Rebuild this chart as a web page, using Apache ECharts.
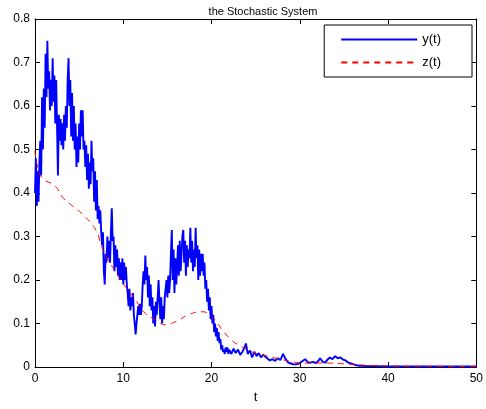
<!DOCTYPE html>
<html>
<head>
<meta charset="utf-8">
<script src="https://cdn.jsdelivr.net/npm/echarts@6/dist/echarts.min.js"></script>
<style>
  html, body { margin: 0; padding: 0; background: #fff; }
  #chart { width: 486px; height: 409px; }
</style>
</head>
<body>
<div id="chart"></div>
<script>
// axis ticks
const xTicks = [0, 10, 20, 30, 40, 50];
const yTicks = [0, 0.1, 0.2, 0.3, 0.4, 0.5, 0.6, 0.7, 0.8];

// y(t): noisy path as [t, value]
const yPoints = [
  [0.0,0.40],[0.1,0.48],[0.2,0.37],[0.3,0.45],[0.4,0.38],[0.5,0.47],[0.6,0.52],[0.7,0.44],[0.8,0.62],[0.9,0.50],
  [1.0,0.64],[1.1,0.55],[1.2,0.72],[1.3,0.62],[1.4,0.75],[1.5,0.64],[1.6,0.68],[1.7,0.59],[1.8,0.66],[1.9,0.60],
  [2.0,0.71],[2.1,0.61],[2.2,0.67],[2.3,0.56],[2.4,0.66],[2.5,0.55],[2.6,0.44],[2.7,0.58],[2.8,0.52],[2.9,0.57],
  [3.0,0.51],[3.1,0.56],[3.2,0.50],[3.3,0.58],[3.4,0.52],[3.5,0.60],[3.6,0.55],[3.7,0.66],[3.8,0.71],[3.9,0.60],
  [4.0,0.66],[4.1,0.53],[4.2,0.63],[4.3,0.52],[4.4,0.60],[4.5,0.50],[4.6,0.56],[4.7,0.46],[4.8,0.53],[4.9,0.47],
  [5.0,0.56],[5.1,0.50],[5.2,0.59],[5.3,0.53],[5.4,0.59],[5.5,0.50],[5.6,0.52],[5.7,0.46],[5.8,0.51],[5.9,0.43],
  [6.0,0.49],[6.1,0.41],[6.2,0.47],[6.3,0.42],[6.4,0.52],[6.5,0.45],[6.6,0.48],[6.7,0.38],[6.8,0.45],[6.9,0.36],
  [7.0,0.43],[7.1,0.34],[7.2,0.37],[7.3,0.33],[7.4,0.36],[7.5,0.31],[7.6,0.28],[7.7,0.31],[7.8,0.22],[7.9,0.19],
  [8.0,0.26],[8.1,0.24],[8.2,0.30],[8.3,0.25],[8.4,0.29],[8.5,0.24],[8.6,0.31],[8.7,0.365],[8.8,0.29],[8.9,0.30],
  [9.0,0.22],[9.1,0.28],[9.2,0.23],[9.3,0.27],[9.4,0.21],[9.5,0.25],[9.6,0.20],[9.7,0.24],[9.8,0.20],[9.9,0.25],
  [10.0,0.19],[10.1,0.24],[10.2,0.20],[10.3,0.23],[10.4,0.19],[10.5,0.17],[10.6,0.14],[10.7,0.18],[10.8,0.13],[10.9,0.16],
  [11.0,0.14],[11.1,0.17],[11.2,0.12],[11.3,0.10],[11.4,0.075],[11.5,0.10],[11.6,0.12],[11.7,0.14],[11.8,0.12],[11.9,0.145],
  [12.0,0.12],[12.1,0.14],[12.2,0.19],[12.3,0.22],[12.4,0.19],[12.5,0.256],[12.6,0.20],[12.7,0.23],[12.8,0.16],[12.9,0.21],
  [13.0,0.14],[13.1,0.19],[13.2,0.13],[13.3,0.16],[13.4,0.10],[13.5,0.14],[13.6,0.093],[13.7,0.15],[13.8,0.12],[13.9,0.16],
  [14.0,0.20],[14.1,0.15],[14.2,0.11],[14.3,0.16],[14.4,0.10],[14.5,0.14],[14.6,0.11],[14.7,0.16],[14.8,0.16],[14.9,0.20],
  [15.0,0.16],[15.1,0.21],[15.2,0.17],[15.3,0.20],[15.4,0.26],[15.5,0.315],[15.6,0.20],[15.7,0.27],[15.8,0.17],[15.9,0.25],
  [16.0,0.19],[16.1,0.23],[16.2,0.28],[16.3,0.21],[16.4,0.29],[16.5,0.22],[16.6,0.26],[16.7,0.30],[16.8,0.315],[16.9,0.24],
  [17.0,0.29],[17.1,0.21],[17.2,0.28],[17.3,0.23],[17.4,0.27],[17.5,0.25],[17.6,0.32],[17.7,0.24],[17.8,0.29],[17.9,0.22],
  [18.0,0.27],[18.1,0.23],[18.2,0.32],[18.3,0.25],[18.4,0.28],[18.5,0.20],[18.6,0.27],[18.7,0.21],[18.8,0.26],[18.9,0.22],
  [19.0,0.26],[19.1,0.21],[19.2,0.24],[19.3,0.18],[19.4,0.20],[19.5,0.15],[19.6,0.18],[19.7,0.13],[19.8,0.16],[19.9,0.11],
  [20.0,0.14],[20.1,0.10],[20.2,0.12],[20.3,0.08],[20.4,0.10],[20.5,0.07],[20.6,0.09],[20.7,0.06],[20.8,0.08],[20.9,0.055],
  [21.0,0.065],[21.1,0.04],[21.2,0.05],[21.3,0.035],[21.4,0.04],[21.5,0.03],[21.6,0.045],[21.7,0.035],[21.8,0.045],[21.9,0.03],
  [22.0,0.04],[22.25,0.03],[22.5,0.042],[22.75,0.032],[23.0,0.04],[23.25,0.028],[23.5,0.035],[23.75,0.045],[23.9,0.054],[24.1,0.03],
  [24.35,0.038],[24.6,0.022],[24.85,0.035],[25.1,0.025],[25.35,0.032],[25.6,0.022],[25.85,0.028],[26.0,0.032],[26.3,0.02],[26.6,0.015],
  [26.9,0.018],[27.2,0.014],[27.5,0.02],[27.8,0.016],[28.1,0.03],[28.4,0.018],[28.7,0.01],[29.0,0.008],[29.3,0.006],[29.6,0.006],
  [29.9,0.008],[30.2,0.012],[30.6,0.018],[30.9,0.011],[31.2,0.01],[31.5,0.012],[31.8,0.009],[32.1,0.014],[32.3,0.02],[32.6,0.012],
  [32.9,0.01],[33.1,0.016],[33.4,0.022],[33.7,0.018],[34.0,0.025],[34.3,0.02],[34.6,0.022],[34.9,0.017],[35.2,0.015],[35.5,0.01],
  [35.8,0.008],[36.1,0.006],[36.4,0.004],[36.8,0.003],[37.5,0.002],[38.5,0.002],[40,0.001],[42,0.001],[45,0.001],[48,0.001],[50,0.001]
];

// z(t): smooth path as [t, value]
const zPoints = [
  [0,0.497],[0.3,0.46],[0.9,0.433],[2.24,0.417],[3.14,0.39],[4.26,0.37],[5.6,0.347],[6.95,0.313],[7.5,0.28],[8.2,0.25],
  [9.3,0.213],[10.3,0.183],[11.4,0.154],[12.3,0.127],[13.7,0.108],[14.8,0.097],[15.9,0.104],[17.4,0.12],[18.8,0.127],[19.8,0.12],
  [21.1,0.089],[22.2,0.063],[23.3,0.048],[24.9,0.032],[26.3,0.025],[27.8,0.018],[29.4,0.011],[30.8,0.009],[33.1,0.009],[35.3,0.007],
  [37.6,0.004],[40.9,0.002],[45,0.0015],[50,0.001]
];

const chart = echarts.init(document.getElementById('chart'));
const font = 'Liberation Sans, Arial, sans-serif';

function boxAxis(ticks, pos, showLabel) {
  return {
    type: 'value',
    position: pos,
    min: ticks[0],
    max: ticks[ticks.length - 1],
    interval: ticks[1] - ticks[0],
    axisLine: { show: true, onZero: false, lineStyle: { color: '#000', width: 1 } },
    axisTick: { show: true, inside: true, length: 5, lineStyle: { color: '#000' } },
    axisLabel: { show: showLabel, color: '#000', fontSize: 12, fontFamily: font, margin: 6 },
    splitLine: { show: false }
  };
}

const xBottom = boxAxis(xTicks, 'bottom', true);
xBottom.name = 't';
xBottom.nameLocation = 'middle';
xBottom.nameGap = 24;
xBottom.nameTextStyle = { color: '#000', fontSize: 13, fontFamily: font };
const xTop = boxAxis(xTicks, 'top', false);
const yLeft = boxAxis(yTicks, 'left', true);
yLeft.axisLabel.margin = 5;
const yRight = boxAxis(yTicks, 'right', false);

chart.setOption({
  animation: false,
  backgroundColor: '#fff',
  title: {
    text: 'the Stochastic System',
    left: 258,
    textAlign: 'center',
    top: 1,
    textStyle: { color: '#000', fontSize: 11, fontWeight: 'normal', fontFamily: font }
  },
  grid: { left: 35, right: 5, top: 19, bottom: 38 },
  legend: {
    orient: 'vertical',
    right: 14,
    top: 25,
    padding: [8, 31, 8, 16],
    itemGap: 10,
    itemWidth: 76,
    itemHeight: 14,
    backgroundColor: '#fff',
    borderColor: '#000',
    borderWidth: 1,
    borderRadius: 0,
    itemStyle: { opacity: 0 },
    textStyle: { color: '#000', fontSize: 13, fontFamily: font },
    data: ['y(t)', 'z(t)']
  },
  xAxis: [xBottom, xTop],
  yAxis: [yLeft, yRight],
  series: [
    {
      name: 'y(t)',
      type: 'line',
      data: yPoints,
      showSymbol: false,
      symbol: 'none',
      lineStyle: { color: '#0000ff', width: 1.9 },
      itemStyle: { color: '#0000ff' }
    },
    {
      name: 'z(t)',
      type: 'line',
      data: zPoints,
      smooth: true,
      showSymbol: false,
      symbol: 'none',
      lineStyle: { color: '#ff0000', width: 1, type: [6, 5] },
      itemStyle: { color: '#ff0000' }
    }
  ]
});
</script>
</body>
</html>
